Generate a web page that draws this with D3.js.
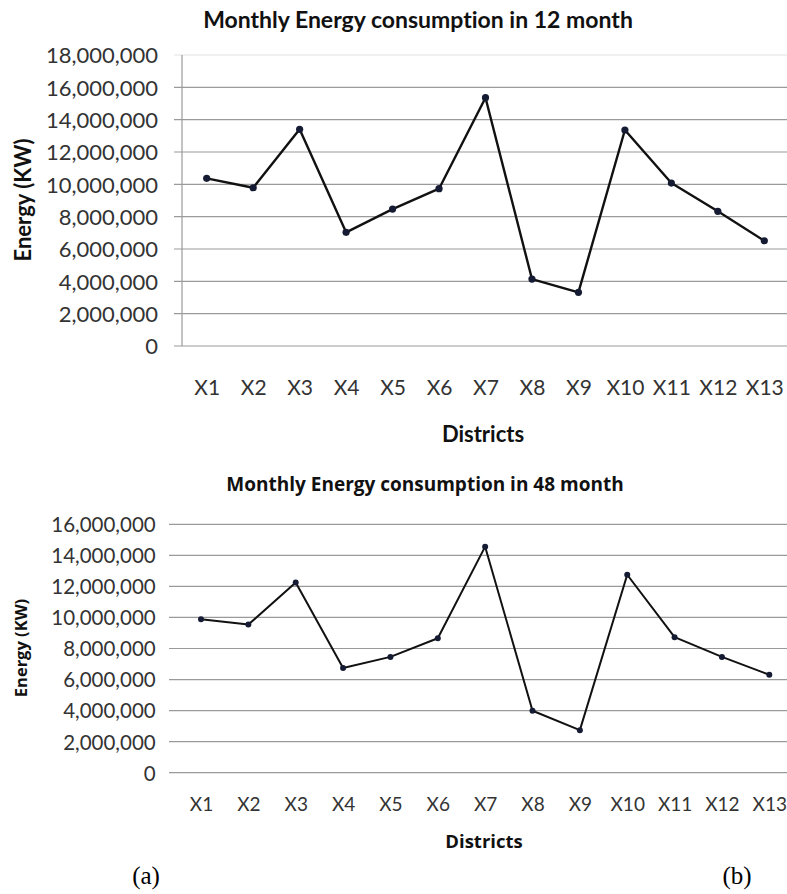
<!DOCTYPE html>
<html>
<head>
<meta charset="utf-8">
<script src="https://cdn.jsdelivr.net/npm/d3@7"></script>
<style>
  body { margin: 0; background: #fff; }
  svg { display: block; }
  text { font-variant-ligatures: none; }
  .tick text { font-family: Lato, "Open Sans", sans-serif; fill: #333; }
  .ttl { font-weight: bold; fill: #111; }
</style>
</head>
<body>
<svg id="chart" width="787" height="894"></svg>
<script>
const districts = ["X1", "X2", "X3", "X4", "X5", "X6", "X7", "X8", "X9", "X10", "X11", "X12", "X13"];

// energy over 12 months (chart a)
const energy12 = [10370000, 9790000, 13400000, 7030000, 8470000, 9730000, 15360000,
                  4140000, 3320000, 13360000, 10080000, 8330000, 6510000];

// energy over 48 months (chart b)
const energy48 = [9880000, 9540000, 12250000, 6740000, 7460000, 8660000, 14560000,
                  3990000, 2740000, 12750000, 8730000, 7460000, 6310000];

const ticks12 = [0, 2000000, 4000000, 6000000, 8000000, 10000000, 12000000, 14000000, 16000000, 18000000];
const ticks48 = [0, 2000000, 4000000, 6000000, 8000000, 10000000, 12000000, 14000000, 16000000];

const svg = d3.select("#chart");
const fmt = d3.format(",");

function drawChart(opt) {
    const g = svg.append("g");

    const x = d3.scalePoint()
        .domain(districts)
        .range([opt.x0, opt.x1]);

    const y = d3.scaleLinear()
        .domain([0, opt.yMax])
        .range([opt.yBottom, opt.yTop]);

    // gridlines
    g.selectAll(".grid")
        .data(opt.ticks)
        .enter()
        .append("line")
        .attr("x1", opt.gridLeft)
        .attr("x2", 787)
        .attr("y1", d => y(d))
        .attr("y2", d => y(d))
        .attr("stroke", d => (opt.fadeTop && d === opt.yMax) ? "#e2e2e2" : "#9a9a9a")
        .attr("stroke-width", 1.2);

    // y axis labels (domain line drawn separately)
    const yAxis = g.append("g")
        .attr("transform", `translate(${opt.labelRight},0)`)
        .call(d3.axisLeft(y).tickValues(opt.ticks).tickFormat(d => fmt(d)).tickSize(0).tickPadding(0));
    yAxis.select(".domain").remove();
    yAxis.selectAll("text")
        .style("font-size", opt.yTickSize + "px")
        .attr("dy", "0.36em");

    if (opt.axisLine) {
        g.append("line")
            .attr("x1", opt.axisLine).attr("x2", opt.axisLine)
            .attr("y1", opt.yTop).attr("y2", opt.yBottom)
            .attr("stroke", "#9a9a9a")
            .attr("stroke-width", 1.2);
    }

    // x axis labels
    const xAxis = g.append("g")
        .attr("transform", `translate(0,${opt.xLabelY})`)
        .call(d3.axisBottom(x).tickSize(0).tickPadding(0));
    xAxis.select(".domain").remove();
    xAxis.selectAll("text")
        .style("font-size", opt.xTickSize + "px")
        .attr("dy", "0.36em")
        .attr("y", 0);

    // line + markers
    const line = d3.line()
        .x((d, i) => x(districts[i]))
        .y(d => y(d));

    g.append("path")
        .datum(opt.values)
        .attr("fill", "none")
        .attr("stroke", "#111")
        .attr("stroke-width", opt.lineWidth)
        .attr("stroke-linejoin", "round")
        .attr("d", line);

    g.selectAll(".dot")
        .data(opt.values)
        .enter()
        .append("circle")
        .attr("cx", (d, i) => x(districts[i]))
        .attr("cy", d => y(d))
        .attr("r", opt.dotR)
        .attr("fill", "#151b33");

    // titles
    g.append("text")
        .attr("class", "ttl")
        .attr("x", opt.titleX)
        .attr("y", opt.titleY)
        .attr("text-anchor", "middle")
        .attr("dy", "0.36em")
        .style("font-family", opt.titleFont)
        .style("font-size", opt.titleSize + "px")
        .text(opt.title);

    g.append("text")
        .attr("class", "ttl")
        .attr("transform", `translate(${opt.yTitleX},${opt.yTitleY}) rotate(-90)`)
        .attr("text-anchor", "middle")
        .attr("dy", "0.36em")
        .style("font-family", opt.titleFont)
        .style("font-size", opt.yTitleSize + "px")
        .text("Energy (KW)");

    g.append("text")
        .attr("class", "ttl")
        .attr("x", opt.xTitleX)
        .attr("y", opt.xTitleY)
        .attr("text-anchor", "middle")
        .attr("dy", "0.36em")
        .style("font-family", opt.titleFont)
        .style("font-size", opt.xTitleSize + "px")
        .text("Districts");
}

drawChart({
    values: energy12, ticks: ticks12, yMax: 18000000,
    x0: 206.7, x1: 764.3, yTop: 55, yBottom: 346,
    gridLeft: 174, axisLine: 182, fadeTop: true, labelRight: 158,
    xLabelY: 387, yTickSize: 22, xTickSize: 21, lineWidth: 2.4, dotR: 3.6,
    titleFont: "Lato, sans-serif",
    title: "Monthly Energy consumption in 12 month", titleX: 418, titleY: 20, titleSize: 23,
    yTitleX: 23, yTitleY: 200, yTitleSize: 22,
    xTitleX: 483, xTitleY: 434, xTitleSize: 22
});

drawChart({
    values: energy48, ticks: ticks48, yMax: 16000000,
    x0: 201, x1: 769.3, yTop: 524.3, yBottom: 772.7,
    gridLeft: 169, axisLine: null, fadeTop: false, labelRight: 155.7,
    xLabelY: 804, yTickSize: 20.5, xTickSize: 19, lineWidth: 2, dotR: 3,
    titleFont: "'Open Sans', sans-serif",
    title: "Monthly Energy consumption in 48 month", titleX: 425, titleY: 484, titleSize: 19,
    yTitleX: 21, yTitleY: 648, yTitleSize: 16.5,
    xTitleX: 484, xTitleY: 841, xTitleSize: 18.5
});

// panel labels
svg.append("text")
    .attr("x", 146).attr("y", 875)
    .attr("text-anchor", "middle").attr("dy", "0.36em")
    .style("font-family", "'Liberation Serif', 'Times New Roman', serif")
    .style("font-size", "25px")
    .text("(a)");

svg.append("text")
    .attr("x", 737).attr("y", 875)
    .attr("text-anchor", "middle").attr("dy", "0.36em")
    .style("font-family", "'Liberation Serif', 'Times New Roman', serif")
    .style("font-size", "25px")
    .text("(b)");
</script>
</body>
</html>
